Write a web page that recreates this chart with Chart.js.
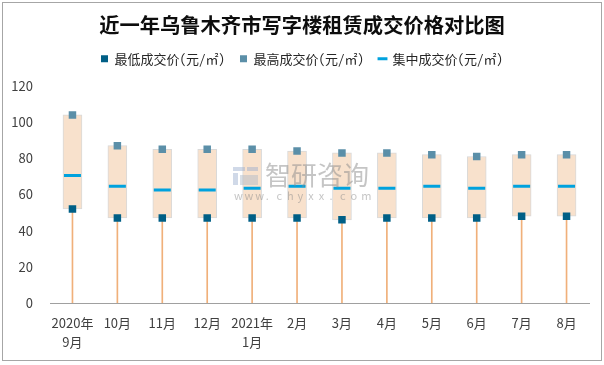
<!DOCTYPE html>
<html>
<head>
<meta charset="utf-8">
<script src="https://cdn.jsdelivr.net/npm/chart.js@4"></script>
<style>
  html, body { margin: 0; padding: 0; background: #fff; }
  #wrap { width: 604px; height: 365px; }
</style>
</head>
<body>
<div id="wrap"><canvas id="chart" width="604" height="365"></canvas></div>
<script>
const labels = [["2020年", "9月"], "10月", "11月", "12月", ["2021年", "1月"], "2月", "3月", "4月", "5月", "6月", "7月", "8月"];
const lowPrice = [52, 47, 47, 47, 47, 47, 46, 47, 47, 47, 48, 48];
const highPrice = [104, 87, 85, 85, 85, 84, 83, 83, 82, 81, 82, 82];
const midPrice = [70.5, 64.5, 62.5, 62.5, 63.5, 64.5, 63.5, 63.5, 64.5, 63.5, 64.5, 64.5];
const yTicks = [0, 20, 40, 60, 80, 100, 120];

const FONT = '"Noto Sans CJK SC", "Noto Sans", sans-serif';
// half-width latin for the legend, like the original
const LEGEND_FONT = '"Noto Sans Mono CJK SC", "Liberation Mono", "Noto Sans CJK SC", monospace';

// white page + thin grey frame + faint watermark
const frame = {
  id: "frame",
  beforeDraw(chart) {
    const ctx = chart.ctx;
    ctx.save();
    ctx.fillStyle = "#fff";
    ctx.fillRect(0, 0, chart.width, chart.height);
    ctx.strokeStyle = "#A6A6A6";
    ctx.lineWidth = 1;
    ctx.strokeRect(2.5, 2.5, 599, 358);
    ctx.restore();
  },
  afterDatasetsDraw(chart) {
    const ctx = chart.ctx;
    ctx.save();
    // little logo blocks
    ctx.fillStyle = "rgba(150,170,205,0.45)";
    ctx.fillRect(233, 167, 12, 4);
    ctx.fillRect(233, 173, 5, 12);
    ctx.fillRect(247, 167, 11, 4);
    ctx.fillStyle = "rgba(170,185,200,0.45)";
    ctx.fillRect(240, 175, 18, 10);
    ctx.fillStyle = "rgba(140,140,140,0.5)";
    ctx.font = "26px " + FONT;
    ctx.textBaseline = "middle";
    ctx.fillText("智研咨询", 265, 175);
    ctx.font = "11px " + FONT;
    const url = "www.chyxx.com";
    for (let i = 0; i < url.length; i++) {
      ctx.fillText(url[i], 234 + i * 10.6, 196);
    }
    ctx.restore();
  }
};

new Chart(document.getElementById("chart"), {
  type: "bar",
  data: {
    labels,
    datasets: [
      {
        type: "line",
        label: "最低成交价(元/㎡)",
        data: lowPrice,
        showLine: false,
        pointStyle: "rect",
        pointRadius: 5.3,
        pointHoverRadius: 5.3,
        backgroundColor: "#005F86",
        borderColor: "#005F86",
        borderWidth: 0,
      },
      {
        type: "line",
        label: "最高成交价(元/㎡)",
        data: highPrice,
        showLine: false,
        pointStyle: "rect",
        pointRadius: 5.3,
        pointHoverRadius: 5.3,
        backgroundColor: "#5B8FA8",
        borderColor: "#5B8FA8",
        borderWidth: 0,
      },
      {
        type: "line",
        label: "集中成交价(元/㎡)",
        data: midPrice,
        showLine: false,
        pointStyle: "line",
        pointRadius: 8.5,
        pointHoverRadius: 8.5,
        borderWidth: 3,
        backgroundColor: "#00A2DE",
        borderColor: "#00A2DE",
      },
      {
        label: "box",
        data: lowPrice.map((v, i) => [v, highPrice[i]]),
        backgroundColor: "#F8E1CC",
        borderColor: "#D9D9D9",
        borderWidth: 1,
        borderSkipped: false,
        barThickness: 19,
        grouped: false,
      },
      {
        label: "drop",
        data: lowPrice.map(v => [0, v]),
        backgroundColor: "#F0B07A",
        borderWidth: 0,
        barThickness: 1,
        grouped: false,
      },
    ]
  },
  options: {
    responsive: false,
    animation: false,
    events: [],
    layout: { padding: { left: 9, right: 9, top: 0, bottom: 4 } },
    plugins: {
      title: {
        display: true,
        text: "近一年乌鲁木齐市写字楼租赁成交价格对比图",
        color: "#0d0d0d",
        font: { family: FONT, size: 20.3, weight: "bold" },
        padding: { top: 13, bottom: 0 },
      },
      legend: {
        display: true,
        labels: {
          filter: item => item.datasetIndex < 3,
          usePointStyle: true,
          boxWidth: 7,
          boxHeight: 7,
          padding: 15,
          color: "#262626",
          font: { family: LEGEND_FONT, size: 13 },
        }
      },
      tooltip: { enabled: false },
    },
    scales: {
      x: {
        grid: { display: false, drawTicks: false },
        border: { display: true, color: "#A0A0A0", width: 1 },
        ticks: { color: "#404040", font: { family: FONT, size: 13, lineHeight: 1.5 }, padding: 10, maxRotation: 0, autoSkip: false },
        afterFit: s => { s.height = 58; },
      },
      xTop: {
        type: "category",
        position: "top",
        grid: { display: false, drawTicks: false },
        border: { display: false },
        ticks: { display: false },
        afterFit: s => { s.height = 10.6; },
      },
      y: {
        min: 0,
        max: 120,
        grid: { display: false, drawTicks: false },
        border: { display: false },
        afterBuildTicks: s => { s.ticks = yTicks.map(v => ({ value: v })); },
        ticks: { color: "#404040", font: { family: FONT, size: 13 }, padding: 17 },
        afterFit: s => { s.width = 41; },
      },
      yRight: {
        position: "right",
        grid: { display: false, drawTicks: false },
        border: { display: false },
        ticks: { display: false },
        afterFit: s => { s.width = 6; },
      },
    }
  },
  plugins: [frame]
});
</script>
</body>
</html>
